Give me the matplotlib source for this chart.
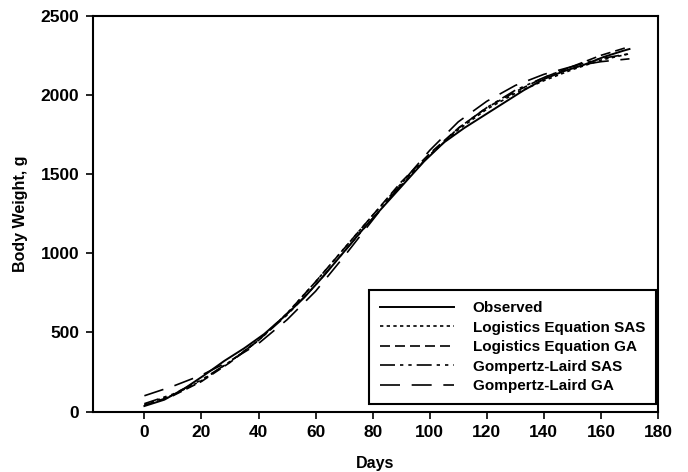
import matplotlib
matplotlib.use("Agg")
import matplotlib.pyplot as plt

plt.rcParams['font.family'] = ['Liberation Sans', 'DejaVu Sans']
plt.rcParams['font.weight'] = 'bold'

# observed weights (weekly)
obs_days = [0, 7, 14, 21, 28, 35, 42, 49, 56, 63, 70, 77, 84, 91, 98, 105,
            112, 119, 126, 133, 140, 147, 154, 161, 168, 170]
obs_weight = [35, 75, 145, 230, 320, 400, 490, 600, 720, 860, 1010, 1160, 1300,
              1440, 1580, 1700, 1790, 1870, 1950, 2030, 2100, 2150, 2190, 2240,
              2280, 2290]

# fitted curves (every 10 days)
fit_days = [0, 10, 20, 30, 40, 50, 60, 70, 80, 90, 100, 110, 120, 130, 140, 150, 160, 170]
log_sas = [45, 105, 195, 315, 450, 620, 820, 1030, 1240, 1440, 1620, 1780, 1910,
           2010, 2090, 2160, 2220, 2260]
log_ga = [40, 100, 190, 310, 450, 620, 820, 1030, 1240, 1450, 1630, 1790, 1920,
          2020, 2110, 2180, 2250, 2305]
gl_sas = [50, 110, 200, 315, 450, 610, 800, 1010, 1220, 1430, 1620, 1790, 1920,
          2030, 2110, 2180, 2230, 2260]
gl_ga = [100, 160, 230, 320, 430, 580, 760, 980, 1210, 1440, 1650, 1830, 1960,
         2060, 2130, 2180, 2210, 2228]

fig = plt.figure(figsize=(6.88, 4.72), dpi=100)
ax = fig.add_axes([0.1352, 0.128, 0.8212, 0.8386])

lw = 1.2
ax.plot(obs_days, obs_weight, color='black', lw=1.4, ls='-', label='Observed')
ax.plot(fit_days, log_sas, color='black', lw=lw, ls=(0, (2, 2)), label='Logistics Equation SAS')
ax.plot(fit_days, log_ga, color='black', lw=lw, ls=(0, (6, 3)), label='Logistics Equation GA')
ax.plot(fit_days, gl_sas, color='black', lw=lw, ls=(0, (9, 3, 2, 3, 2, 3)), label='Gompertz-Laird SAS')
ax.plot(fit_days, gl_ga, color='black', lw=lw, ls=(0, (12, 7)), label='Gompertz-Laird GA')

ax.set_xlim(-18, 180)
ax.set_ylim(0, 2500)
ax.set_xticks(range(0, 181, 20))
ax.set_yticks(range(0, 2501, 500))
ax.tick_params(direction='out', length=5, width=1.2, labelsize=12.5, pad=5,
               top=False, right=False)
for s in ax.spines.values():
    s.set_linewidth(1.5)

ax.set_xlabel('Days', fontsize=11.5, fontweight='bold', labelpad=11)
ax.set_ylabel('Body Weight, g', fontsize=11.5, fontweight='bold', labelpad=9)

leg = ax.legend(loc='lower right', bbox_to_anchor=(0.9965, 0.019), fontsize=11,
                handlelength=4.85, handletextpad=1.2, labelspacing=0.36,
                fancybox=False, edgecolor='black', framealpha=1, borderpad=0.72,
                borderaxespad=0)
leg.get_frame().set_linewidth(1.5)

fig.savefig('out.png', dpi=100)
